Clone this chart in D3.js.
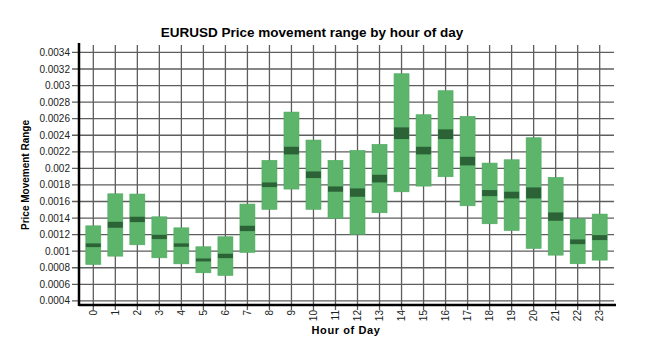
<!DOCTYPE html>
<html>
<head>
<meta charset="utf-8">
<script src="https://cdn.jsdelivr.net/npm/d3@7"></script>
<style>
  body { margin: 0; background: #fff; }
  text { font-family: "Liberation Sans", Arial, sans-serif; }
</style>
</head>
<body>
<div id="chart"></div>
<script>
// hours 0..23
const hours = d3.range(0, 24)
// low / high of the hourly range
const rangeLow = [0.00084, 0.00094, 0.001077, 0.00092, 0.000847, 0.000739, 0.000707, 0.000985,
    0.001505, 0.00175, 0.001505, 0.001396, 0.001203, 0.001464, 0.001717, 0.001786,
    0.001899, 0.001548, 0.001331, 0.00125, 0.001033, 0.000952, 0.000848, 0.000892]
const rangeHigh = [0.001306, 0.001693, 0.00169, 0.001415, 0.001282, 0.001053, 0.001174, 0.001569,
    0.002097, 0.00268, 0.002342, 0.002097, 0.002217, 0.00229, 0.003143, 0.002648,
    0.002938, 0.002628, 0.002064, 0.002104, 0.00237, 0.001891, 0.001391, 0.001448]
// dark band around the median
const medLow = [0.001049, 0.001283, 0.001351, 0.001146, 0.001053, 0.000876, 0.000916, 0.001242,
    0.001774, 0.002169, 0.001883, 0.001718, 0.001657, 0.00183, 0.002354, 0.002169,
    0.002354, 0.002036, 0.001665, 0.001637, 0.001637, 0.001367, 0.001085, 0.001134]
const medHigh = [0.001094, 0.001355, 0.001416, 0.001198, 0.001094, 0.000912, 0.000969, 0.001307,
    0.00183, 0.002261, 0.001963, 0.001782, 0.001758, 0.001923, 0.002495, 0.002261,
    0.002471, 0.00214, 0.001738, 0.001718, 0.00177, 0.001468, 0.001142, 0.001194]
const yTicks = d3.range(0.0004, 0.00341, 0.0002)

const data = hours.map((h, i) => ({
    hour: h, low: rangeLow[i], high: rangeHigh[i], mLow: medLow[i], mHigh: medHigh[i]
}))

const width = 650, height = 353
const plotLeft = 79, plotRight = 614, plotTop = 45, plotBottom = 305

const svg = d3.select("#chart").append("svg")
    .attr("width", width)
    .attr("height", height)

let x = d3.scaleLinear().domain([-0.65, 23.65]).range([plotLeft, plotRight])
let y = d3.scaleLinear().domain([0.00035, 0.00349]).range([plotBottom, plotTop])

// title
svg.append("text")
    .attr("x", 312).attr("y", 37)
    .attr("text-anchor", "middle")
    .style("font-size", "13.5px").style("font-weight", "bold")
    .text("EURUSD Price movement range by hour of day")

// grid
svg.append("g").selectAll("line")
    .data(yTicks).enter().append("line")
    .attr("x1", plotLeft - 7).attr("x2", plotRight)
    .attr("y1", d => y(d)).attr("y2", d => y(d))
    .attr("stroke", "#5e5e5e").attr("stroke-width", 1.3)

svg.append("g").selectAll("line")
    .data(hours).enter().append("line")
    .attr("x1", d => x(d)).attr("x2", d => x(d))
    .attr("y1", plotTop).attr("y2", plotBottom + 5)
    .attr("stroke", "#5e5e5e").attr("stroke-width", 1.3)

// y tick labels
svg.append("g").selectAll("text")
    .data(yTicks).enter().append("text")
    .attr("x", 70).attr("y", d => y(d) + 3.5)
    .attr("text-anchor", "end")
    .style("font-size", "10px").attr("fill", "#222")
    .text(d => String(+d.toFixed(4)))

// x tick labels
svg.append("g").selectAll("text")
    .data(hours).enter().append("text")
    .attr("transform", d => `translate(${x(d) + 3.5},${plotBottom + 5}) rotate(-90)`)
    .attr("text-anchor", "end")
    .style("font-size", "10px").attr("fill", "#222")
    .text(d => d)

// boxes
svg.append("g").selectAll("rect")
    .data(data).enter().append("rect")
    .attr("x", d => x(d.hour) - 7.5).attr("width", 15)
    .attr("y", d => y(d.high)).attr("height", d => y(d.low) - y(d.high))
    .attr("fill", "#5cb56b").attr("stroke", "#4fa95f").attr("stroke-width", 0.6)

svg.append("g").selectAll("rect")
    .data(data).enter().append("rect")
    .attr("x", d => x(d.hour) - 7.5).attr("width", 15)
    .attr("y", d => y(d.mHigh)).attr("height", d => y(d.mLow) - y(d.mHigh))
    .attr("fill", "#2b6337")

// axes lines
svg.append("line")
    .attr("x1", plotLeft).attr("x2", plotLeft).attr("y1", plotTop - 2).attr("y2", plotBottom + 1)
    .attr("stroke", "#000").attr("stroke-width", 2.5)
svg.append("line")
    .attr("x1", plotLeft).attr("x2", plotRight + 2).attr("y1", plotBottom).attr("y2", plotBottom)
    .attr("stroke", "#000").attr("stroke-width", 2.5)

// axis titles
svg.append("text")
    .attr("x", 346).attr("y", 334)
    .attr("text-anchor", "middle")
    .style("font-size", "11px").style("font-weight", "bold")
    .style("letter-spacing", "0.6px")
    .text("Hour of Day")

svg.append("text")
    .attr("transform", "translate(29,175) rotate(-90)")
    .attr("text-anchor", "middle")
    .style("font-size", "10px").style("font-weight", "bold")
    .text("Price Movement Range")
</script>
</body>
</html>
